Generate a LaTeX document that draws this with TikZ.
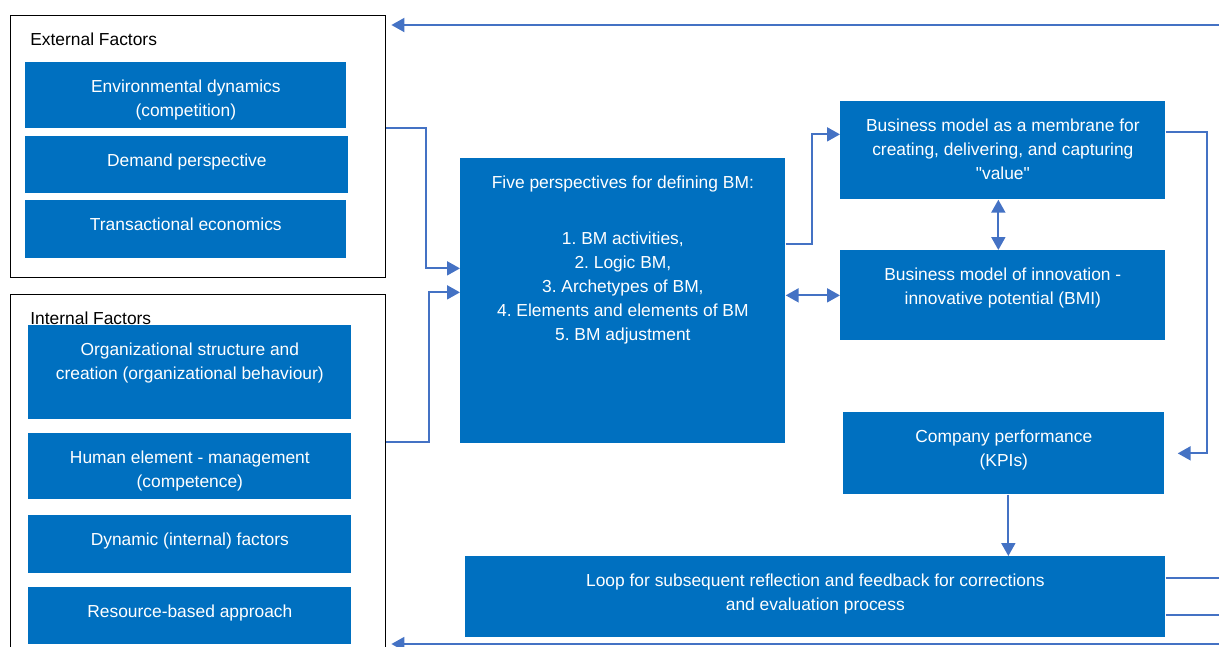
\documentclass[tikz,border=0pt]{standalone}
\usepackage{fontspec}
\setmainfont{Liberation Sans}
\usetikzlibrary{arrows.meta, positioning, calc}
\definecolor{bmblue}{HTML}{0070C0}
\definecolor{linkblue}{HTML}{4472C4}
\frenchspacing

\begin{document}
\begin{tikzpicture}[
  font=\fontsize{9.9}{13.6}\selectfont,
  frame/.style={draw=black, line width=0.8pt, anchor=north west, inner sep=0pt},
  framelbl/.style={anchor=base west, inner sep=0pt, xshift=0.4cm, yshift=-0.6cm},
  bmbox/.style={fill=bmblue, anchor=north west, inner sep=0pt},
  boxtext/.style={text=white, align=center, anchor=north, inner sep=0pt, yshift=-0.36cm},
  flow/.style={-{Triangle[length=0.26cm, width=0.28cm]}, linkblue, line width=1.1pt},
  both/.style={{Triangle[length=0.26cm, width=0.28cm]}-{Triangle[length=0.26cm, width=0.28cm]},
    linkblue, line width=1.1pt},
  link/.style={linkblue, line width=1.1pt}
]
  \useasboundingbox (0,0) rectangle (24.38,-12.92);
  \def\xL{0.50} \def\xI{0.56} \def\xC{9.20} \def\xR{16.80}

  %--- external factors ---
  \node[frame, minimum width=7.5cm, minimum height=5.24cm,
        label={[framelbl]north west:External Factors}]
    (ext) at (0.20,-0.30) {};
  \node[bmbox, minimum width=6.42cm, minimum height=1.32cm,
        label={[boxtext]north:{Environmental dynamics\\(competition)}}]
    (env) at (\xL,-1.24) {};
  \node[bmbox, minimum width=6.46cm, minimum height=1.14cm,
        label={[boxtext]north:Demand perspective}]
    (dem) at (\xL,-2.72) {};
  \node[bmbox, minimum width=6.42cm, minimum height=1.16cm,
        label={[boxtext]north:Transactional economics}]
    (trans) at (\xL,-4.00) {};

  %--- internal factors ---
  \node[frame, minimum width=7.5cm, minimum height=7.32cm,
        label={[framelbl]north west:Internal Factors}]
    (int) at (0.20,-5.88) {};
  \node[bmbox, minimum width=6.46cm, minimum height=1.88cm,
        label={[boxtext]north:{Organizational structure and\\creation (organizational behaviour)}}]
    (org) at (\xI,-6.50) {};
  \node[bmbox, minimum width=6.46cm, minimum height=1.32cm,
        label={[boxtext]north:{Human element - management\\(competence)}}]
    (hum) at (\xI,-8.66) {};
  \node[bmbox, minimum width=6.46cm, minimum height=1.16cm,
        label={[boxtext]north:Dynamic (internal) factors}]
    (dyn) at (\xI,-10.30) {};
  \node[bmbox, minimum width=6.46cm, minimum height=1.14cm,
        label={[boxtext]north:Resource-based approach}]
    (res) at (\xI,-11.74) {};

  %--- business model ---
  \node[bmbox, minimum width=6.5cm, minimum height=5.7cm,
        label={[boxtext]north:{Five perspectives for defining BM:\\[18pt]
          1. BM activities,\\2. Logic BM,\\3. Archetypes of BM,\\
          4. Elements and elements of BM\\5. BM adjustment}}]
    (five) at (\xC,-3.16) {};
  \node[bmbox, minimum width=6.5cm, minimum height=1.96cm,
        label={[boxtext]north:{Business model as a membrane for\\
          creating, delivering, and capturing\\\textquotedbl value\textquotedbl}}]
    (memb) at (\xR,-2.02) {};
  \node[bmbox, minimum width=6.5cm, minimum height=1.8cm,
        label={[boxtext]north:{Business model of innovation -\\innovative potential (BMI)}}]
    (bmi) at (\xR,-5.00) {};
  \node[bmbox, minimum width=6.42cm, minimum height=1.64cm,
        label={[boxtext]north:{Company performance\\(KPIs)}}]
    (kpi) at (16.86,-8.24) {};
  \node[bmbox, minimum width=14cm, minimum height=1.62cm,
        label={[boxtext]north:{Loop for subsequent reflection and feedback for corrections\\
          and evaluation process}}]
    (loop) at (9.30,-11.12) {};

  %--- loose ends on the right ---
  \coordinate (topR) at (24.38,-0.50);
  \coordinate (botR) at (24.38,-12.88);

  %--- connectors ---
  \draw[flow, shorten >=0.1cm] (topR) -- (topR -| ext.east);
  \draw[flow] ([yshift=0.38cm]ext.east) -- ++(0.8,0) |- ([yshift=0.65cm]five.west);
  \draw[flow] ([yshift=0.72cm]int.east) -- ++(0.86,0) |- ([yshift=0.17cm]five.west);
  \draw[flow] ([yshift=1.13cm]five.east) -- ++(0.52,0) |- ([yshift=0.32cm]memb.west);
  \draw[both] (bmi.west -| five.east) -- (bmi.west);
  \draw[both] ([xshift=-0.09cm]memb.south) -- ([xshift=-0.09cm]bmi.north);
  \draw[flow, shorten >=0.26cm] ([yshift=0.36cm]memb.east) -- ++(0.82,0) |- (kpi.east);
  \draw[flow] ([xshift=0.09cm]kpi.south) -- ([xshift=0.09cm]kpi.south |- loop.north);
  \draw[link] ([yshift=0.37cm]loop.east) -- ++(1.08,0);
  \draw[link] ([yshift=-0.37cm]loop.east) -- ++(1.08,0);
  \draw[flow, shorten >=0.1cm] (botR) -- (botR -| int.east);

\end{tikzpicture}
\end{document}
